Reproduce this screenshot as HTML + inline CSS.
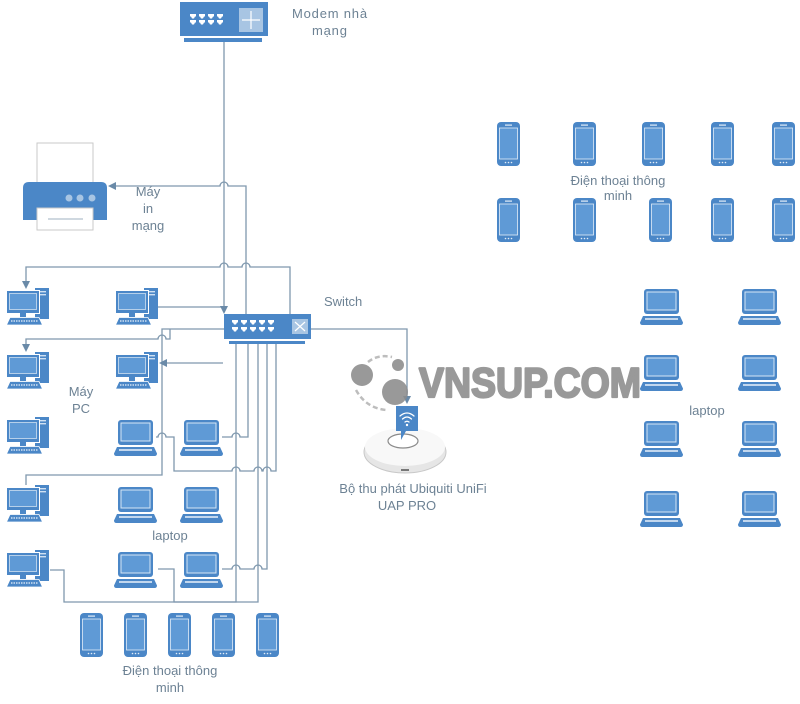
<!DOCTYPE html>
<html>
<head>
<meta charset="utf-8">
<style>
html,body{margin:0;padding:0;background:#fff;}
svg{display:block;}
text{font-family:"Liberation Sans","DejaVu Sans",sans-serif;fill:#6d8294;font-size:13px;}
</style>
</head>
<body>
<svg width="800" height="704" viewBox="0 0 800 704" xmlns="http://www.w3.org/2000/svg">
<defs>
  <g id="pc">
    <rect x="29" y="0" width="14" height="31" fill="#4b87c7"/>
    <rect x="33" y="3" width="7" height="1.4" fill="#cfe0f2"/>
    <rect x="33" y="6" width="7" height="1.4" fill="#cfe0f2"/>
    <rect x="0.5" y="2.5" width="33" height="23" fill="#4b87c7" stroke="#fff" stroke-width="1"/>
    <rect x="3.5" y="5.5" width="27" height="16" fill="#5f9ad6" stroke="#cfe0f2" stroke-width="0.8"/>
    <rect x="14" y="25" width="6" height="4" fill="#4b87c7"/>
    <path d="M4 29.5 H33 L36.5 37 H0.5 Z" fill="#4b87c7" stroke="#fff" stroke-width="0.8"/>
    <line x1="5" y1="33" x2="32" y2="33" stroke="#cfe0f2" stroke-width="1.4" stroke-dasharray="1.5 1"/>
  </g>
  <g id="lap">
    <rect x="4" y="0" width="35" height="25" rx="3" fill="#4b87c7"/>
    <rect x="7" y="3" width="29" height="18" fill="#5f9ad6" stroke="#d6e6f5" stroke-width="1"/>
    <path d="M3 27 H40 L43 33.5 Q43 36 40.5 36 H2.5 Q0 36 0 33.5 Z" fill="#4b87c7"/>
    <line x1="5" y1="30" x2="38" y2="30" stroke="#eaf2fb" stroke-width="1.6"/>
  </g>
  <g id="ph">
    <rect x="0" y="0" width="23" height="44" rx="4" fill="#4b87c7"/>
    <rect x="2.5" y="6" width="18" height="31" fill="#5f9ad6" stroke="#e2edf8" stroke-width="0.8"/>
    <rect x="8" y="2.5" width="7" height="1.2" fill="#e2edf8"/>
    <circle cx="8.5" cy="40.5" r="0.8" fill="#e2edf8"/>
    <circle cx="11.5" cy="40.5" r="0.8" fill="#e2edf8"/>
    <circle cx="14.5" cy="40.5" r="0.8" fill="#e2edf8"/>
  </g>
  <g id="port">
    <rect x="0" y="0" width="6" height="2.5" fill="#fff"/>
    <path d="M1 2.5 H5 L4 4.5 H2 Z" fill="#fff"/>
  </g>
</defs>

<!-- ===== Connectors ===== -->
<g fill="none" stroke="#7f98ae" stroke-width="1.3">
  <path d="M224 42 V307"/>
  <path d="M158 307 H224"/>
  <path d="M116 186 H220 A4 4 0 0 1 228 186 H246 V314"/>
  <path d="M290 314 V267 H250 A4 4 0 0 0 242 267 H228 A4 4 0 0 0 220 267 H26 V281"/>
  <path d="M225 329 H162 V475 H26 V485"/>
  <path d="M170 329 V339 H166 A4 4 0 0 0 158 339 H26 V344"/>
  <path d="M223 363 H167"/>
  <path d="M156 437 H158 A4 4 0 0 1 166 437 H174 V471 H232 A4 4 0 0 1 240 471 H254 A4 4 0 0 1 262 471 H263 A4 4 0 0 1 271 471 H276 V342"/>
  <path d="M222 437 H232 A4 4 0 0 1 240 437 H248 V342"/>
  <path d="M222 569 H232 A4 4 0 0 1 240 569 H254 A4 4 0 0 1 262 569 H267 V342"/>
  <path d="M158 569 H174 V602 H258 V342"/>
  <path d="M50 570 H64 V602 H236 V342"/>
  <path d="M311 329 H407 V396"/>
</g>
<g fill="#6a8aa8">
  <polygon points="220,306 228,306 224,314"/>
  <polygon points="108,186 116,182 116,190"/>
  <polygon points="22,281 30,281 26,289"/>
  <polygon points="22,344 30,344 26,352"/>
  <polygon points="159,363 167,359 167,367"/>
  <polygon points="403,396 411,396 407,404"/>
</g>

<!-- ===== Modem ===== -->
<rect x="180" y="2" width="88" height="34" fill="#4b87c7"/>
<rect x="184" y="38" width="78" height="4" fill="#4b87c7"/>
<use href="#port" x="190" y="14"/>
<use href="#port" x="199" y="14"/>
<use href="#port" x="208" y="14"/>
<use href="#port" x="217" y="14"/>
<use href="#port" x="190" y="20"/>
<use href="#port" x="199" y="20"/>
<use href="#port" x="208" y="20"/>
<use href="#port" x="217" y="20"/>
<rect x="239" y="8" width="24" height="24" fill="#a8c5e3"/>
<g stroke="#fff" stroke-width="1.2" fill="none">
  <path d="M251 11 V29 M242 20 H260"/>
</g>
<text x="292" y="18" letter-spacing="0.8">Modem nhà</text>
<text x="312" y="35" letter-spacing="0.8">mạng</text>

<!-- ===== Printer ===== -->
<rect x="37" y="143" width="56" height="40" fill="#fff" stroke="#c9c9c9" stroke-width="1"/>
<path d="M23 220 V188 Q23 182 29 182 H101 Q107 182 107 188 V220 Z" fill="#4b87c7"/>
<circle cx="69" cy="198" r="3.5" fill="#a8c5e3"/>
<circle cx="80" cy="198" r="3.5" fill="#a8c5e3"/>
<circle cx="92" cy="198" r="3.5" fill="#a8c5e3"/>
<rect x="37" y="208" width="56" height="22" fill="#fff" stroke="#c9c9c9" stroke-width="1"/>
<line x1="48" y1="219" x2="83" y2="219" stroke="#9fb0c0" stroke-width="1"/>
<text x="148" y="196" text-anchor="middle">Máy</text>
<text x="148" y="213" text-anchor="middle">in</text>
<text x="148" y="230" text-anchor="middle">mạng</text>

<!-- ===== Switch ===== -->
<rect x="224" y="314" width="87" height="25" fill="#4b87c7"/>
<rect x="229" y="341" width="76" height="3" fill="#4b87c7"/>
<use href="#port" x="232" y="320"/>
<use href="#port" x="241" y="320"/>
<use href="#port" x="250" y="320"/>
<use href="#port" x="259" y="320"/>
<use href="#port" x="268" y="320"/>
<use href="#port" x="232" y="327"/>
<use href="#port" x="241" y="327"/>
<use href="#port" x="250" y="327"/>
<use href="#port" x="259" y="327"/>
<use href="#port" x="268" y="327"/>
<rect x="292" y="319" width="16" height="15" fill="#a8c5e3"/>
<path d="M295 322 L305 331 M305 322 L295 331" stroke="#fff" stroke-width="1.2"/>
<text x="324" y="306">Switch</text>

<!-- ===== PCs ===== -->
<use href="#pc" x="6" y="288"/>
<use href="#pc" x="115" y="288"/>
<use href="#pc" x="6" y="352"/>
<use href="#pc" x="115" y="352"/>
<use href="#pc" x="6" y="417"/>
<use href="#pc" x="6" y="485"/>
<use href="#pc" x="6" y="550"/>
<text x="81" y="396" text-anchor="middle">Máy</text>
<text x="81" y="413" text-anchor="middle">PC</text>

<!-- ===== Left laptops ===== -->
<use href="#lap" x="114" y="420"/>
<use href="#lap" x="180" y="420"/>
<use href="#lap" x="114" y="487"/>
<use href="#lap" x="180" y="487"/>
<use href="#lap" x="114" y="552"/>
<use href="#lap" x="180" y="552"/>
<text x="170" y="540" text-anchor="middle">laptop</text>

<!-- ===== Bottom phones ===== -->
<use href="#ph" x="80" y="613"/>
<use href="#ph" x="124" y="613"/>
<use href="#ph" x="168" y="613"/>
<use href="#ph" x="212" y="613"/>
<use href="#ph" x="256" y="613"/>
<text x="170" y="675" text-anchor="middle">Điện thoại thông</text>
<text x="170" y="692" text-anchor="middle">minh</text>

<!-- ===== Right phones ===== -->
<use href="#ph" x="497" y="122"/>
<use href="#ph" x="573" y="122"/>
<use href="#ph" x="642" y="122"/>
<use href="#ph" x="711" y="122"/>
<use href="#ph" x="772" y="122"/>
<use href="#ph" x="497" y="198"/>
<use href="#ph" x="573" y="198"/>
<use href="#ph" x="649" y="198"/>
<use href="#ph" x="711" y="198"/>
<use href="#ph" x="772" y="198"/>
<text x="618" y="185" text-anchor="middle">Điện thoại thông</text>
<text x="618" y="200" text-anchor="middle">minh</text>

<!-- ===== Right laptops ===== -->
<use href="#lap" x="640" y="289"/>
<use href="#lap" x="738" y="289"/>
<use href="#lap" x="640" y="355"/>
<use href="#lap" x="738" y="355"/>
<use href="#lap" x="640" y="421"/>
<use href="#lap" x="738" y="421"/>
<use href="#lap" x="640" y="491"/>
<use href="#lap" x="738" y="491"/>
<text x="707" y="415" text-anchor="middle">laptop</text>

<!-- ===== Access point ===== -->
<ellipse cx="405" cy="452" rx="41" ry="21" fill="#e6e6e6" stroke="#c8c8c8" stroke-width="1"/>
<ellipse cx="405" cy="447" rx="40" ry="19" fill="#f8f8f8"/>
<ellipse cx="403" cy="441" rx="15" ry="7" fill="#fff" stroke="#8a8a8a" stroke-width="1.2"/>
<rect x="401" y="469" width="8" height="2" fill="#777"/>
<path d="M396 406 H418 V431 H406 L401 440 L401 431 H396 Z" fill="#4b87c7"/>
<g fill="none" stroke="#fff" stroke-width="1.3" stroke-linecap="round">
  <path d="M400 416 Q407 410 414 416"/>
  <path d="M402.5 419 Q407 415 411.5 419"/>
  <path d="M405 422 Q407 420.5 409 422"/>
</g>
<circle cx="407" cy="425" r="1.2" fill="#fff"/>
<text x="413" y="493" text-anchor="middle">Bộ thu phát Ubiquiti UniFi</text>
<text x="407" y="510" text-anchor="middle">UAP PRO</text>

<!-- ===== Watermark ===== -->
<g opacity="0.88">
  <path d="M368 362 Q378 354 392 357" fill="none" stroke="#b5b5b5" stroke-width="2.5" stroke-dasharray="5 3"/>
  <path d="M356 390 Q366 408 386 410" fill="none" stroke="#b5b5b5" stroke-width="2.5" stroke-dasharray="5 3"/>
  <circle cx="362" cy="375" r="11" fill="#8c8c8c"/>
  <circle cx="398" cy="365" r="6" fill="#8c8c8c"/>
  <circle cx="395" cy="392" r="13" fill="#8c8c8c"/>
  <text x="419" y="397" textLength="222" lengthAdjust="spacingAndGlyphs" style="font-size:42px;font-weight:bold;fill:#8b8b8b;stroke:#8b8b8b;stroke-width:2.2;stroke-linejoin:round;">VNSUP.COM</text>
</g>
</svg>
</body>
</html>
